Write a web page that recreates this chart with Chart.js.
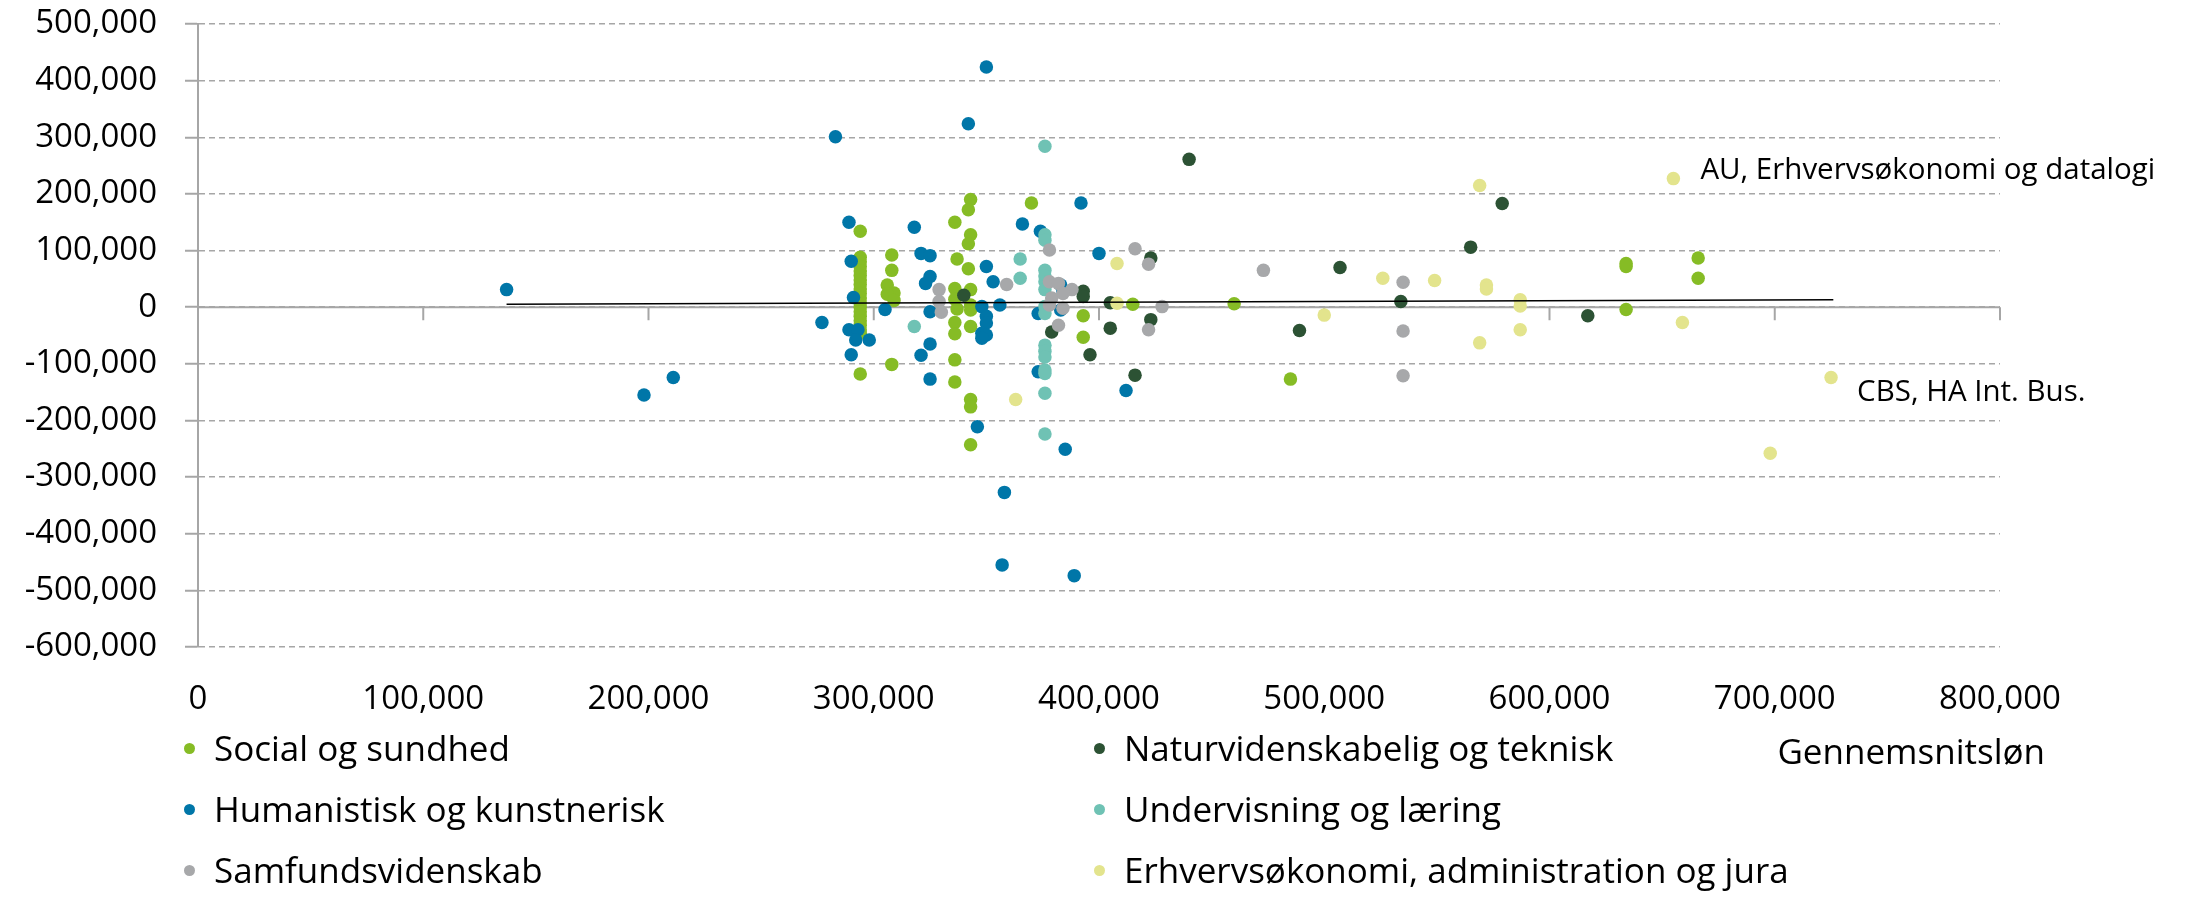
<!DOCTYPE html>
<html>
<head>
<meta charset="utf-8">
<title>Gennemsnitsløn</title>
<script src="https://cdn.jsdelivr.net/npm/chart.js@4.4.1/dist/chart.umd.min.js"></script>
<style>
  body { margin: 0; background: #fff; }
  #wrap { position: relative; width: 2196px; height: 897px; font-family: 'Open Sans', sans-serif; color: #000; }
  #chart { position: absolute; left: 0; top: 0; }
  .leg { position: absolute; font-size: 35px; line-height: 42px; white-space: nowrap; }
  .leg i { position: absolute; left: -30px; top: 16px; width: 11px; height: 11px; border-radius: 50%; }
  #xtitle { position: absolute; right: 151px; top: 730px; font-size: 35px; line-height: 42px; }
</style>
</head>
<body>
<div id="wrap">
  <canvas id="chart" width="2196" height="897"></canvas>
  <div id="legend"></div>
  <div id="xtitle">Gennemsnitsløn</div>
</div>
<script>
// series, in legend order (row by row, two columns)
const seriesNames = [
    'Social og sundhed',
    'Naturvidenskabelig og teknisk',
    'Humanistisk og kunstnerisk',
    'Undervisning og læring',
    'Samfundsvidenskab',
    'Erhvervsøkonomi, administration og jura'
];
const seriesColors = ['#86bc25', '#2c5234', '#0076a8', '#6fc2b4', '#a7a8aa', '#e3e48d'];

// [gennemsnitsløn, afvigelse]
const social = [
    [294000, 134000], [294000, 88000], [294000, 80000], [294000, 72000], [294000, 64000],
    [294000, 56000], [294000, 48000], [294000, 40000], [294000, 32000], [294000, 24000],
    [294000, 16000], [294000, 8000], [294000, 0], [294000, -8000], [294000, -16000],
    [294000, -24000], [294000, -32000], [294000, -40000], [294000, -46000], [294000, -118000],
    [308000, 92000], [308000, 65000], [306000, 39000], [309000, 25000], [306000, 23000],
    [309000, 12000], [308000, -101000],
    [343000, 190000], [342000, 172000], [336000, 150000], [343000, 128000], [342000, 112000],
    [337000, 85000], [342000, 68000], [336000, 33000], [343000, 31000], [336000, 14000],
    [343000, 4000], [337000, -3000], [343000, -5000], [336000, -27000], [343000, -34000],
    [336000, -47000], [336000, -93000], [336000, -132000], [343000, -163000], [343000, -176000],
    [343000, -243000],
    [370000, 184000], [393000, -15000], [393000, -53000], [415000, 5000], [460000, 6000],
    [485000, -127000], [634000, 72000], [634000, 77000], [634000, -4000], [666000, 87000],
    [666000, 51000]
];
const natur = [
    [340000, 21000], [379000, -44000], [393000, 28000], [393000, 19000], [396000, -84000],
    [405000, 8000], [405000, -37000], [416000, -120000], [423000, 87000], [423000, -22000],
    [440000, 261000], [489000, -41000], [507000, 70000], [534000, 10000], [565000, 106000],
    [579000, 183000], [617000, -15000]
];
const human = [
    [137000, 31000], [198000, -155000], [211000, -124000], [277000, -27000], [283000, 301000],
    [289000, 150000], [290000, 81000], [291000, 17000], [289000, -40000], [293000, -40000],
    [292000, -58000], [298000, -58000], [290000, -84000], [305000, -4000], [318000, 141000],
    [321000, 95000], [325000, 91000], [325000, 54000], [323000, 42000], [325000, -8000],
    [325000, -65000], [321000, -85000], [325000, -127000], [342000, 324000], [350000, 424000],
    [350000, 72000], [353000, 45000], [356000, 4000], [348000, 1000], [350000, -16000],
    [350000, -28000], [348000, -46000], [350000, -49000], [348000, -55000], [346000, -211000],
    [358000, -327000], [357000, -455000], [366000, 147000], [374000, 134000], [373000, -11000],
    [373000, -114000], [383000, -5000], [383000, 39000], [384000, 28000], [385000, -251000],
    [389000, -474000], [392000, 184000], [400000, 95000], [412000, -147000]
];
const underv = [
    [318000, -34000], [365000, 85000], [365000, 51000], [376000, 284000], [376000, 128000],
    [376000, 118000], [376000, 65000], [376000, 55000], [376000, 45000], [376000, 31000],
    [376000, 1000], [376000, -11000], [376000, -67000], [376000, -78000], [376000, -88000],
    [376000, -111000], [376000, -117000], [376000, -152000], [376000, -224000]
];
const samfund = [
    [329000, 31000], [329000, 10000], [330000, -9000], [359000, 40000], [378000, 101000],
    [378000, 45000], [382000, 42000], [388000, 31000], [384000, 24000], [379000, 16000],
    [378000, 4000], [384000, -2000], [382000, -32000], [416000, 103000], [422000, 76000],
    [428000, 1000], [422000, -40000], [473000, 65000], [535000, 44000], [535000, -42000],
    [535000, -121000]
];
const erhverv = [
    [363000, -163000], [408000, 77000], [408000, 7000], [500000, -14000], [526000, 51000],
    [549000, 47000], [569000, 215000], [569000, -63000], [572000, 39000], [572000, 32000],
    [587000, 13000], [587000, 2000], [587000, -40000], [655000, 227000], [659000, -27000],
    [698000, -258000], [725000, -124000]
];
const seriesData = [social, natur, human, underv, samfund, erhverv];

// linear trend line
const trendX = [137000, 726000];
const trendY = [5000, 13000];

// labelled points
const noteTexts = ['AU, Erhvervsøkonomi og datalogi', 'CBS, HA Int. Bus.'];
const notePoints = [[655000, 227000], [725000, -124000]];

const fmt = v => Number(v).toLocaleString('en-US');

// zero line with tick marks, and the point labels
const axisExtras = {
    id: 'axisExtras',
    beforeDatasetsDraw(chart) {
        const { ctx, chartArea, scales: { x, y } } = chart;
        const y0 = y.getPixelForValue(0);
        ctx.save();
        ctx.strokeStyle = '#a6a6a6';
        ctx.lineWidth = 2;
        ctx.beginPath();
        ctx.moveTo(chartArea.left, y0);
        ctx.lineTo(chartArea.right, y0);
        x.ticks.forEach(t => {
            const px = x.getPixelForValue(t.value);
            ctx.moveTo(px, y0);
            ctx.lineTo(px, y0 + 13);
        });
        ctx.stroke();
        ctx.restore();
    },
    afterDatasetsDraw(chart) {
        const { ctx, scales: { x, y } } = chart;
        const shift = [[27, 0], [26, 24]];
        ctx.save();
        ctx.font = '29.5px "Open Sans"';
        ctx.fillStyle = '#000';
        ctx.textBaseline = 'alphabetic';
        noteTexts.forEach((t, i) => {
            const px = x.getPixelForValue(notePoints[i][0]);
            const py = y.getPixelForValue(notePoints[i][1]);
            ctx.fillText(t, px + shift[i][0], py + shift[i][1]);
        });
        ctx.restore();
    }
};

const datasets = seriesNames.map((name, i) => ({
    label: name,
    data: seriesData[i].map(p => ({ x: p[0], y: p[1] })),
    backgroundColor: seriesColors[i],
    borderColor: seriesColors[i],
    pointRadius: 6.75,
    pointHoverRadius: 6.75,
    pointBorderWidth: 0,
    order: seriesNames.length - i
}));
datasets.push({
    label: 'Tendens',
    data: trendX.map((v, i) => ({ x: v, y: trendY[i] })),
    showLine: true,
    borderColor: '#000',
    borderWidth: 1.5,
    pointRadius: 0,
    order: 0
});

Chart.defaults.font.family = "'Open Sans', sans-serif";
Chart.defaults.font.size = 33;
Chart.defaults.color = '#000';

new Chart(document.getElementById('chart'), {
    type: 'scatter',
    data: { datasets },
    options: {
        responsive: false,
        animation: false,
        events: [],
        layout: { padding: { top: 24, right: 196, bottom: 0, left: 0 } },
        plugins: { legend: { display: false }, tooltip: { enabled: false } },
        scales: {
            x: {
                type: 'linear',
                min: 0,
                max: 800000,
                grid: { display: false, drawTicks: false },
                border: { display: false },
                ticks: { stepSize: 100000, padding: 33, maxRotation: 0, autoSkip: false, callback: fmt },
                afterFit(s) { s.height = 250; }
            },
            y: {
                type: 'linear',
                min: -600000,
                max: 500000,
                grid: { color: '#a6a6a6', lineWidth: 1.5, tickLength: 13, tickColor: '#a6a6a6', tickWidth: 2 },
                border: { display: true, color: '#a6a6a6', width: 2, dash: [6, 4] },
                ticks: { stepSize: 100000, padding: 28, callback: fmt },
                afterFit(s) {
                    s.width = 198;
                    s.paddingTop = 0;
                    s.paddingBottom = 0;
                }
            }
        }
    },
    plugins: [axisExtras]
});

// legend, two columns filled row by row
const legend = document.getElementById('legend');
const colLeft = [214, 1124];
const rowTop = [727, 788, 849];
seriesNames.forEach((name, i) => {
    const el = document.createElement('div');
    el.className = 'leg';
    el.style.left = colLeft[i % 2] + 'px';
    el.style.top = rowTop[Math.floor(i / 2)] + 'px';
    el.innerHTML = `<i style="background:${seriesColors[i]}"></i>${name}`;
    legend.appendChild(el);
});
</script>
</body>
</html>
